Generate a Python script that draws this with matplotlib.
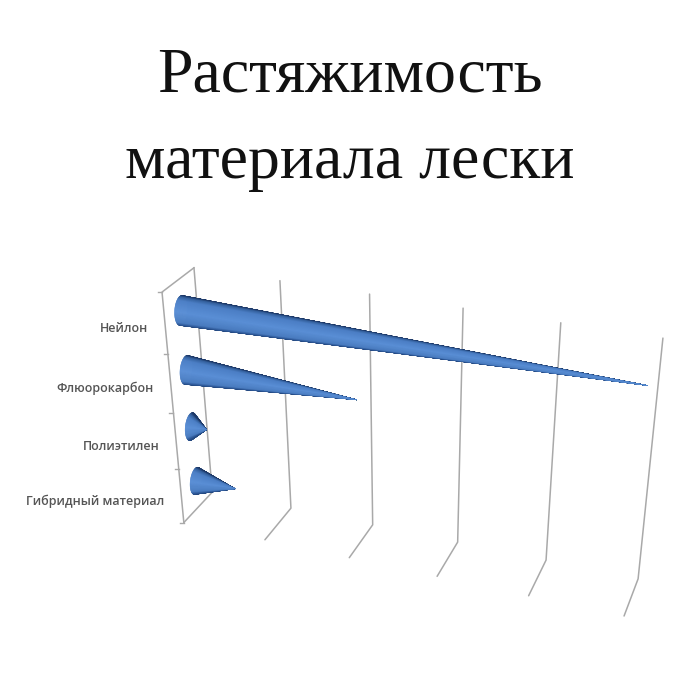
import numpy as np
import matplotlib
matplotlib.use('Agg')
import matplotlib.pyplot as plt
from matplotlib.collections import PolyCollection
from matplotlib.colors import LinearSegmentedColormap

# Chart data
categories = ['Нейлон', 'Флюорокарбон', 'Полиэтилен', 'Гибридный материал']
values = [4.95, 1.98, 0.19, 0.49]
grid_values = [0, 1, 2, 3, 4, 5]
title_lines = ['Растяжимость', 'материала лески']

# Camera calibration: box corners (value, depth, height) -> picture pixels
box_pts = np.array([[0, 0, 1], [0, 0, 0], [0, 1, 0], [0, 1, 1],
                    [3, 0, 1], [3, 0, 0], [3, 1, 0],
                    [5, 0, 1], [5, 0, 0], [5, 1, 0]], dtype=float)
px_pts = np.array([[194, 268], [212, 492], [184, 522], [162, 292],
                   [463, 308], [458, 543], [437, 577],
                   [663, 338], [638, 578], [624, 616]], dtype=float)

rows, rhs = [], []
for (a, b, c), (u, w) in zip(box_pts, px_pts):
    rows.append([a, b, c, 1, 0, 0, 0, 0, -u * a, -u * b, -u * c])
    rows.append([0, 0, 0, 0, a, b, c, 1, -w * a, -w * b, -w * c])
    rhs += [u, w]
cam = np.append(np.linalg.lstsq(np.array(rows), np.array(rhs), rcond=None)[0], 1).reshape(3, 4)


def project(v, d, h):
    p = cam @ np.array([v, d, h, 1.0])
    return p[0] / p[2], p[1] / p[2]


fig = plt.figure(figsize=(7, 7), dpi=100, facecolor='white')
ax = fig.add_axes([0, 0, 1, 1])
ax.set_xlim(0, 700)
ax.set_ylim(700, 0)
ax.axis('off')

# Title
for line, y in zip(title_lines, [92, 178]):
    ax.text(350, y, line, ha='center', va='baseline', fontsize=46,
            family='Liberation Serif', color='#111111')

# Frame and gridlines
line_col = '#a9a9a9'
for v in grid_values:
    pts = [project(v, 0, 1), project(v, 0, 0), project(v, 1, 0)]
    ax.plot(*zip(*pts), color=line_col, lw=1.1, solid_capstyle='round')
pts = [project(0, 0, 1), project(0, 1, 1), project(0, 1, 0)]
ax.plot(*zip(*pts), color=line_col, lw=1.1)

# Category ticks on left edge
n = len(categories)
for i in range(n + 1):
    x, y = project(0, 1, i / n)
    ax.plot([x - 4, x], [y, y], color=line_col, lw=1)

# Cones, shaded by position across the visible side (0 top edge, 1 bottom edge)
cone_map = LinearSegmentedColormap.from_list(
    'cone', [(0, '#1c3766'), (0.05, '#35629f'), (0.16, '#4c7fc6'), (0.55, '#5a8fd6'),
             (0.88, '#4a7cc0'), (0.96, '#2f5a9a'), (1, '#24487f')])
angles = np.linspace(0, 2 * np.pi, 181)
r_h, r_d = 0.058, 0.2
for i, (name, val) in enumerate(zip(categories, values)):
    h0 = 1 - (i + 0.5) / n
    tip = project(val, 0.5, h0)
    polys, base_y, depth = [], [], []
    for a0, a1 in zip(angles[:-1], angles[1:]):
        am = (a0 + a1) / 2
        p0 = project(0, 0.5 + r_d * np.cos(a0), h0 + r_h * np.sin(a0))
        p1 = project(0, 0.5 + r_d * np.cos(a1), h0 + r_h * np.sin(a1))
        polys.append([p0, p1, tip])
        base_y.append((p0[1] + p1[1]) / 2)
        depth.append(np.cos(am))
    base_y = np.array(base_y)
    shade = (base_y - base_y.min()) / (base_y.max() - base_y.min())
    order = np.argsort(depth)
    cols = cone_map(shade[order])
    ax.add_collection(PolyCollection([polys[k] for k in order], facecolors=cols,
                                     edgecolors=cols, linewidths=0.3, zorder=3))
    # label
    x, y = project(0, 1, h0)
    ax.annotate(name, (x, y), xytext=(-12, -3.5), textcoords='offset points',
                ha='right', va='center', fontsize=9, family='Open Sans',
                fontweight='semibold', color='#555555')

fig.savefig('out.png', dpi=100, facecolor='white')
